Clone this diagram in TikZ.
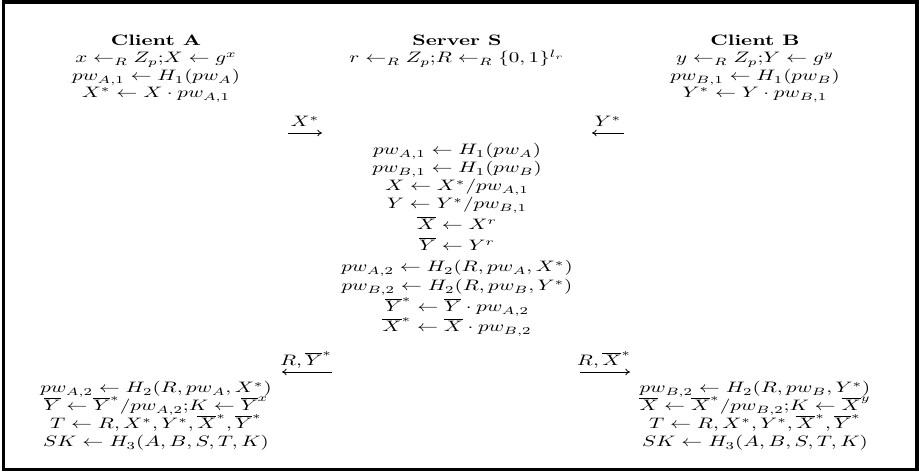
\documentclass[tikz,border=0pt]{standalone}
\usepackage{amsmath}
\usepackage{graphicx}
\usetikzlibrary{arrows.meta}
\newcommand{\vsq}[1]{\scalebox{1}[0.72]{#1}}
\newcommand{\semic}{{;}}
\tikzset{
  txt/.style={anchor=base, inner sep=0pt, outer sep=0pt},
  msg/.style={line width=0.4pt, -{Computer Modern Rightarrow[width=3.2pt,length=2.2pt]}},
  frame/.style={line width=1.7pt}
}
\begin{document}
\begin{tikzpicture}[x=0.476pt, y=-0.476pt]
\useasboundingbox (0,0) rectangle (919,475);
\draw[frame] (3.5,1.8) rectangle (917.2,469.5);
% columns
\def\ca{156}
\def\cs{457}
\def\cb{755}
% headers and first rows
\node[txt] (hA) at (\ca,46) {\vsq{\textbf{Client A}}};
\node[txt] (hS) at (\cs,46) {\vsq{\textbf{Server S}}};
\node[txt] (hB) at (\cb,46) {\vsq{\textbf{Client B}}};
\node[txt] (a1) at (\ca,63) {\vsq{$x \leftarrow_R Z_p\semic X \leftarrow g^x$}};
\node[txt] (s1) at (\cs,63) {\vsq{$r \leftarrow_R Z_p\semic R \leftarrow_R \{0,1\}^{l_r}$}};
\node[txt] (b1) at (\cb,63) {\vsq{$y \leftarrow_R Z_p\semic Y \leftarrow g^y$}};
\node[txt] (a2) at (\ca,81) {\vsq{$pw_{A,1} \leftarrow H_1(pw_A)$}};
\node[txt] (b2) at (\cb,81) {\vsq{$pw_{B,1} \leftarrow H_1(pw_B)$}};
\node[txt] (a3) at (\ca,98) {\vsq{$X^* \leftarrow X \cdot pw_{A,1}$}};
\node[txt] (b3) at (\cb,98) {\vsq{$Y^* \leftarrow Y \cdot pw_{B,1}$}};
% first messages
\coordinate (m1s) at (288,133);
\coordinate (m1e) at (322,133);
\draw[msg] (m1s) -- (m1e);
\node[txt] (m1l) at (305,127) {\vsq{$X^*$}};
\coordinate (m2s) at (624,133);
\coordinate (m2e) at (592,133);
\draw[msg] (m2s) -- (m2e);
\node[txt] (m2l) at (608,127) {\vsq{$Y^*$}};
% server computations
\node[txt] (c1) at (\cs,155) {\vsq{$pw_{A,1} \leftarrow H_1(pw_A)$}};
\node[txt] (c2) at (\cs,173) {\vsq{$pw_{B,1} \leftarrow H_1(pw_B)$}};
\node[txt] (c3) at (\cs,191) {\vsq{$X \leftarrow X^*/pw_{A,1}$}};
\node[txt] (c4) at (\cs,209) {\vsq{$Y \leftarrow Y^*/pw_{B,1}$}};
\node[txt] (c5) at (\cs,230) {\vsq{$\overline{X} \leftarrow X^r$}};
\node[txt] (c6) at (\cs,251) {\vsq{$\overline{Y} \leftarrow Y^r$}};
\node[txt] (c7) at (\cs,272) {\vsq{$pw_{A,2} \leftarrow H_2(R,pw_A,X^*)$}};
\node[txt] (c8) at (\cs,291) {\vsq{$pw_{B,2} \leftarrow H_2(R,pw_B,Y^*)$}};
\node[txt] (c9) at (\cs,312) {\vsq{$\overline{Y}^* \leftarrow \overline{Y} \cdot pw_{A,2}$}};
\node[txt] (c10) at (\cs,332) {\vsq{$\overline{X}^* \leftarrow \overline{X} \cdot pw_{B,2}$}};
% second messages
\coordinate (m3s) at (332,372);
\coordinate (m3e) at (282,372);
\draw[msg] (m3s) -- (m3e);
\node[txt] (m3l) at (306,366) {\vsq{$R,\overline{Y}^*$}};
\coordinate (m4s) at (580,372);
\coordinate (m4e) at (630,372);
\draw[msg] (m4s) -- (m4e);
\node[txt] (m4l) at (604,366) {\vsq{$R,\overline{X}^*$}};
% client A final
\node[txt] (d1) at (\ca,393) {\vsq{$pw_{A,2} \leftarrow H_2(R,pw_A,X^*)$}};
\node[txt] (d2) at (\ca,411) {\vsq{$\overline{Y} \leftarrow \overline{Y}^*/pw_{A,2}\semic K \leftarrow \overline{Y}^x$}};
\node[txt] (d3) at (\ca,429) {\vsq{$T \leftarrow R,X^*,Y^*,\overline{X}^*,\overline{Y}^*$}};
\node[txt] (d4) at (\ca,447) {\vsq{$SK \leftarrow H_3(A,B,S,T,K)$}};
% client B final
\node[txt] (e1) at (\cb,393) {\vsq{$pw_{B,2} \leftarrow H_2(R,pw_B,Y^*)$}};
\node[txt] (e2) at (\cb,411) {\vsq{$\overline{X} \leftarrow \overline{X}^*/pw_{B,2}\semic K \leftarrow \overline{X}^y$}};
\node[txt] (e3) at (\cb,429) {\vsq{$T \leftarrow R,X^*,Y^*,\overline{X}^*,\overline{Y}^*$}};
\node[txt] (e4) at (\cb,447) {\vsq{$SK \leftarrow H_3(A,B,S,T,K)$}};
\end{tikzpicture}
\end{document}
